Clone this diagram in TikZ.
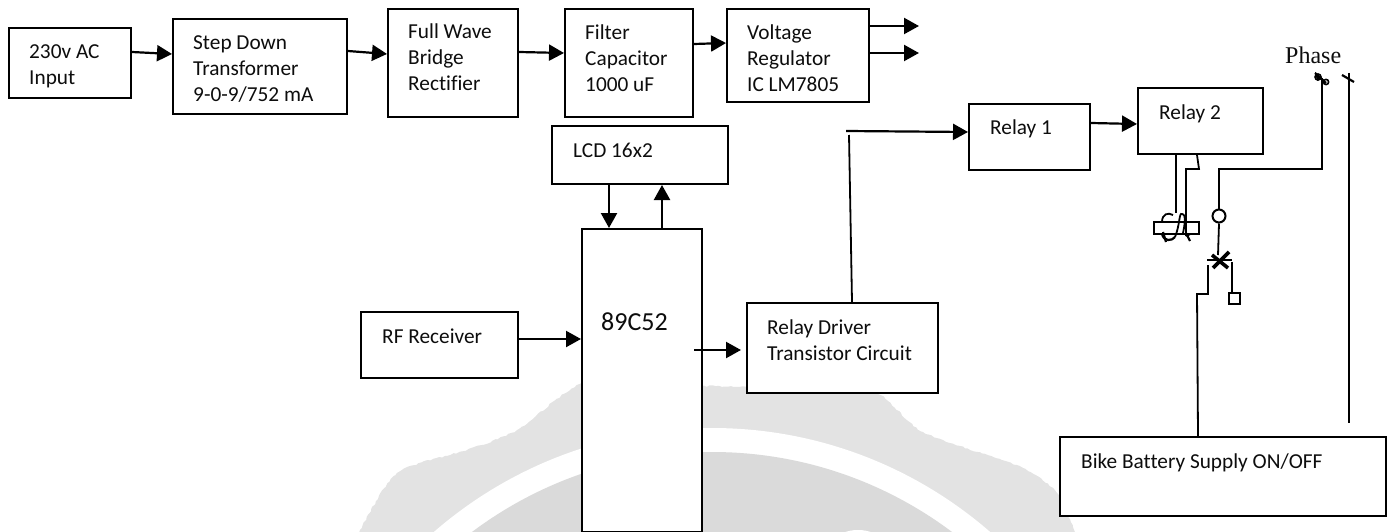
\documentclass[tikz,border=0pt]{standalone}
\usepackage{fontspec}
\setmainfont[Ligatures=NoCommon]{Carlito}
\newfontfamily\timesfont{Liberation Serif}
\usetikzlibrary{arrows.meta,calc,decorations.pathmorphing}
\tikzset{
  boxnode/.style={draw=black,line width=2pt,fill=white,rectangle,inner sep=0pt,anchor=north west},
  lbl/.style={anchor=base west,inner sep=0pt,yshift=-1pt,font=\fontsize{21.3}{24}\selectfont,text=black!95},
  wire/.style={draw=black,line width=2.2pt},
  thinwire/.style={draw=black,line width=1.8pt},
  arr/.style={wire,-{Triangle[length=15pt,width=16pt]}},
  thick stroke/.style={draw=black,line width=3.6pt},
  sealouter/.style={fill=black!11,draw=none},
  sealinner/.style={fill=black!14.5,draw=none},
}
\newcommand{\bx}[5]{\path let \n1={#4-#2},\n2={#5-#3} in node[boxnode,minimum width=\n1 pt,minimum height=\n2 pt] (#1) at (#2,#3) {};}
\begin{document}
\begin{tikzpicture}[x=1pt,y=-1pt]
\clip (0,0) rectangle (1388,532);
% watermark
\fill[sealouter,decorate,decoration={random steps,segment length=3pt,amplitude=0.8pt}]
  plot[smooth,tension=0.45] coordinates {(340,560) (360,530) (397,473) (467,450) (517,430) (580,384) (640,385) (701,386) (790,387) (873,391) (923,432) (1023,468) (1057,493) (1073,527) (1090,560)} -- cycle;
\fill[white] (712,852) circle[radius=424pt];
\fill[sealinner] (712,852) circle[radius=400pt];
\fill[white] (858,541) ellipse[x radius=22pt,y radius=11pt];
% boxes
\bx{ac}{8}{27}{130}{97}
\bx{trans}{172}{18}{346}{113}
\bx{rect}{387}{8}{517}{116}
\bx{filt}{564}{8}{692}{116}
\bx{reg}{726}{8}{868}{101}
\bx{lcd}{551}{125}{727}{183}
\bx{mcu}{581}{228}{701}{531}
\bx{rf}{360}{311}{517}{377}
\bx{drv}{746}{302}{937}{392}
\bx{ra}{968}{103}{1089}{169}
\bx{rb}{1137}{87}{1262}{153}
\bx{bat}{1059}{436}{1385}{515}
% labels
\node[lbl] (t1a) at (29,58) {230v AC};
\node[lbl] (t1b) at (29,84) {Input};
\node[lbl] (t2a) at (193,49) {Step Down};
\node[lbl] (t2b) at (193,75) {Transformer};
\node[lbl] (t2c) at (193,101) {9-0-9/752 mA};
\node[lbl] (t3a) at (408,38) {Full Wave};
\node[lbl] (t3b) at (408,64) {Bridge};
\node[lbl] (t3c) at (408,90) {Rectifier};
\node[lbl] (t4a) at (585,39) {Filter};
\node[lbl] (t4b) at (585,65) {Capacitor};
\node[lbl] (t4c) at (585,91) {1000 uF};
\node[lbl] (t5a) at (747,39) {Voltage};
\node[lbl] (t5b) at (747,65) {Regulator};
\node[lbl] (t5c) at (747,91) {IC LM7805};
\node[lbl] (t6) at (573,156) {LCD 16x2};
\node[lbl,font=\fontsize{26}{30}\selectfont] (t7) at (601,329) {89C52};
\node[lbl] (t8) at (382,342) {RF Receiver};
\node[lbl] (t9a) at (767,333) {Relay Driver};
\node[lbl] (t9b) at (767,359) {Transistor Circuit};
\node[lbl] (t10) at (990,134) {Relay 1};
\node[lbl] (t11) at (1159,119) {Relay 2};
\node[lbl,font=\timesfont\fontsize{24}{28}\selectfont] (t12) at (1285,63) {Phase};
\node[lbl] (t13) at (1081,467) {Bike Battery Supply ON/OFF};
% free ends
\coordinate (regoutA) at (919,26);
\coordinate (regoutB) at (919,53);
% arrows
\draw[arr] (ac.east |- 0,52) -- (trans.west |- 0,54);
\draw[arr] (trans.east |- 0,51) -- (rect.west |- 0,54);
\draw[arr] (rect.east |- 0,52) -- (filt.west |- 0,53);
\draw[arr] (filt.east |- 0,44) -- (reg.west |- 0,43);
\draw[arr] (reg.east |- 0,26) -- (regoutA);
\draw[arr] (reg.east |- 0,53) -- (regoutB);
\draw[arr] (609,0 |- lcd.south) -- (609,0 |- mcu.north);
\draw[arr] (662,0 |- mcu.north) -- (662,0 |- lcd.south);
\draw[arr] (rf.east |- 0,339) -- (mcu.west |- 0,339);
\coordinate (mcuout) at (694,350);
\draw[arr] (mcuout) -- (741,350);
\coordinate (drvtop) at (849,135);
\draw[thinwire] (852,0 |- drv.north) -- (drvtop);
\coordinate (h0) at (846,131);
\draw[arr] (h0) -- (ra.west |- 0,132);
\draw[arr] (ra.east |- 0,123) -- (rb.west |- 0,124);
% relay 2 wires
\coordinate (cA) at (1176,213);
\draw[thinwire] (1176,0 |- rb.south) -- (cA);
\coordinate (cB) at (1186,236);
\draw[thinwire] (1197,0 |- rb.south) -- (1199,169) -- (1186,169) -- (cB);
% coil
\node[draw=black,line width=2pt,rectangle,inner sep=0pt,minimum width=45pt,minimum height=12pt,anchor=north west] (coil) at (1153,221) {};
\draw[thinwire] (1162,222) .. controls (1162,214) and (1168,212) .. (1173,215);
\draw[thinwire] (1175,237) .. controls (1180,225) and (1179,212) .. (1182,214) .. controls (1187,214) and (1184,228) .. (1183,233);
\draw[line width=2.2pt] (1162,234) .. controls (1164,242) and (1172,241) .. (1175,237);
\draw[line width=2.2pt] (1163,232) -- (1166,242);
\draw[line width=2.2pt] (1186,233) -- (1190,241) (1190,234) -- (1186,236);
% phase terminals
\coordinate (phL) at (1322,78);
\coordinate (phR) at (1349,73);
\coordinate (jog) at (1219,169);
\node[draw=black,line width=2pt,circle,inner sep=0pt,minimum size=13pt,fill=white] (ring) at (1219,216) {};
\draw[thinwire] (phL) -- (1322,169) -- (jog) -- (ring.north);
\draw[thinwire] (phR) -- (1349,423);
\draw[line width=2.2pt] (1315,73) -- (1326,83);
\draw[line width=1.6pt] (1318,77) circle[radius=3pt] (1326,82) circle[radius=2.6pt];
\fill (1315,72) -- (1322,78) -- (1317,81) -- cycle;
\draw[line width=2.2pt] (1342,75) -- (1354,82);
% contact
\coordinate (cross) at (1219,260);
\draw[thinwire] (ring.south) -- (1218,255);
\draw[thick stroke] (1212,255) -- (1228,268);
\draw[thick stroke] (1213,268) -- (1229,252);
\draw[line width=1.4pt] (1207,260) -- (1232,260);
\draw[thinwire] (1208,265) -- (1208,294) -- (1197,294) -- (1198,0 |- bat.north);
\node[draw=black,line width=1.8pt,rectangle,inner sep=0pt,minimum size=11pt,anchor=north west,fill=white] (sq) at (1228,292) {};
\draw[thinwire] (1232,262) -- (1232,0 |- sq.north);
\end{tikzpicture}
\end{document}
